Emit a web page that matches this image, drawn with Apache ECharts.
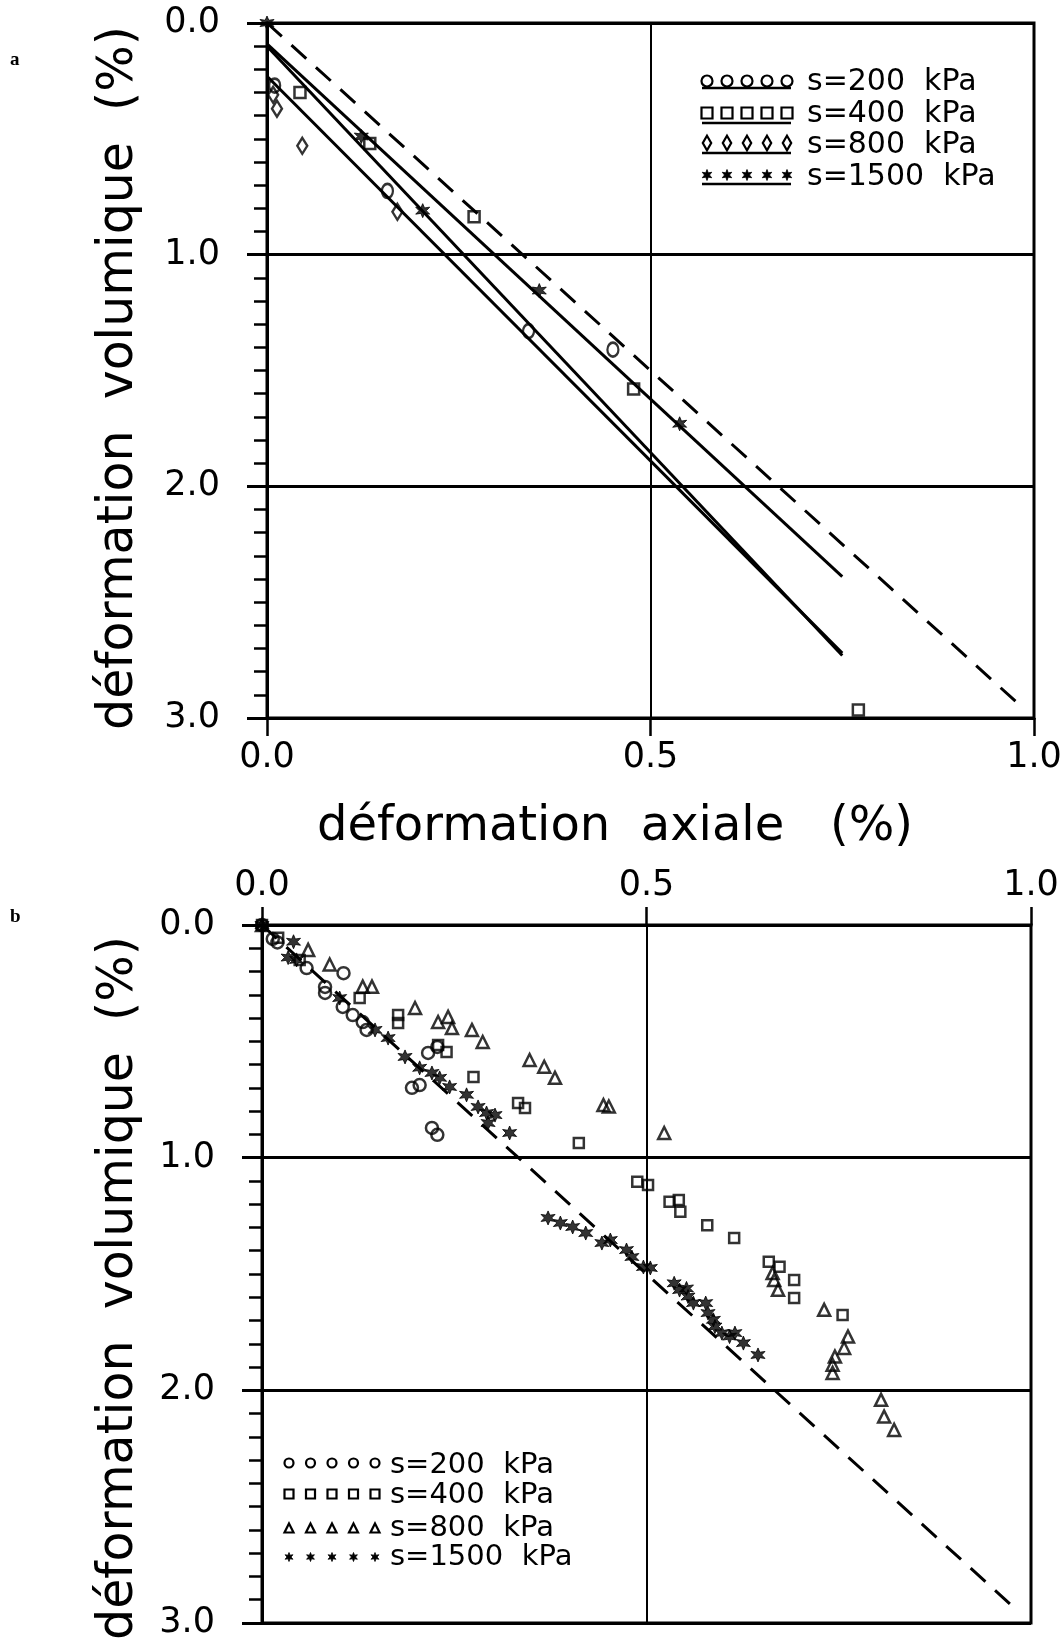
<!DOCTYPE html>
<html>
<head>
<meta charset="utf-8">
<script src="https://cdn.jsdelivr.net/npm/echarts@6/dist/echarts.min.js"></script>
<style>
html,body{margin:0;padding:0;background:#fff;}
#chart{width:1062px;height:1638px;}
</style>
</head>
<body>
<div id="chart"></div>
<script>
// ---------- tick labels ----------
const xTickValues = [0, 0.5, 1.0];
const yTickValues = [0, 1, 2, 3];

// ---------- panel a : measured points ----------
const a_s200  = [[0.010,0.27],[0.157,0.725],[0.341,1.33],[0.451,1.41]];
const a_s400  = [[0.043,0.30],[0.134,0.52],[0.270,0.836],[0.478,1.58],[0.771,2.965]];
const a_s800  = [[0.008,0.31],[0.013,0.37],[0.046,0.53],[0.170,0.815]];
const a_s1500 = [[0,0],[0.123,0.49],[0.203,0.81],[0.355,1.155],[0.538,1.73]];
// panel a : fitted straight lines (end points)
const a_fit1 = [[0,0.09],[0.75,2.39]];
const a_fit2 = [[0,0.10],[0.75,2.73]];
const a_fit3 = [[0,0.23],[0.75,2.72]];
// dashed reference line (both panels)
const refLine = [[0,0],[0.985,2.955]];

// ---------- panel b : measured points ----------
const b_s200 = [[0,0],[0.014,0.06],[0.020,0.075],[0.058,0.185],[0.106,0.207],[0.082,0.266],[0.082,0.292],
  [0.105,0.352],[0.118,0.387],[0.131,0.417],[0.136,0.451],[0.216,0.55],[0.228,0.524],[0.195,0.70],
  [0.205,0.688],[0.221,0.872],[0.228,0.902]];
const b_s400 = [[0,0],[0.021,0.055],[0.049,0.150],[0.127,0.314],[0.177,0.387],[0.177,0.421],[0.229,0.516],
  [0.240,0.546],[0.275,0.653],[0.333,0.765],[0.342,0.786],[0.412,0.937],[0.488,1.103],[0.502,1.117],
  [0.530,1.189],[0.542,1.182],[0.544,1.232],[0.579,1.29],[0.614,1.345],[0.659,1.447],[0.673,1.469],
  [0.692,1.526],[0.692,1.603],[0.755,1.676]];
const b_s800 = [[0,0],[0.060,0.107],[0.088,0.17],[0.131,0.265],[0.143,0.265],[0.199,0.357],[0.229,0.417],
  [0.242,0.395],[0.247,0.443],[0.273,0.451],[0.287,0.503],[0.348,0.58],[0.367,0.609],[0.381,0.657],
  [0.444,0.774],[0.451,0.78],[0.523,0.894],[0.664,1.496],[0.666,1.526],[0.671,1.568],[0.731,1.654],
  [0.762,1.769],[0.757,1.818],[0.745,1.855],[0.742,1.89],[0.742,1.925],[0.805,2.041],[0.809,2.113],[0.822,2.17]];
const b_s1500 = [[0,0],[0.041,0.072],[0.034,0.14],[0.045,0.15],[0.101,0.314],[0.147,0.451],[0.164,0.486],
  [0.186,0.567],[0.205,0.614],[0.221,0.636],[0.231,0.657],[0.244,0.696],[0.266,0.73],[0.281,0.782],
  [0.292,0.808],[0.294,0.851],[0.303,0.817],[0.322,0.894],
  [0.372,1.259],[0.388,1.281],[0.404,1.298],[0.421,1.324],[0.442,1.367],[0.453,1.354],[0.474,1.397],
  [0.481,1.427],[0.496,1.47],[0.505,1.474],
  [0.536,1.54],[0.543,1.569],[0.552,1.562],[0.554,1.597],[0.561,1.625],[0.577,1.625],[0.580,1.668],
  [0.587,1.697],[0.589,1.726],[0.598,1.754],[0.608,1.769],[0.615,1.754],[0.626,1.797],[0.645,1.848]];

// ---------- texts ----------
const seriesNames = ['s=200  kPa','s=400  kPa','s=800  kPa','s=1500  kPa'];
const yTitle = 'déformation  volumique  (%)';
const xTitle = 'déformation  axiale   (%)';
const panelLetters = ['a','b'];

// ---------- styling ----------
const FONT = '"DejaVu Sans", "Noto Sans", sans-serif';
const STAR_PTS = [[0,-1],[0.225,-0.39],[0.866,-0.5],[0.45,0],[0.866,0.5],[0.225,0.39],[0,1],
  [-0.225,0.39],[-0.866,0.5],[-0.45,0],[-0.866,-0.5],[-0.225,-0.39]];
const STAR_PATH = 'path://' + STAR_PTS.map((p,i)=>(i?'L':'M')+(p[0]*100).toFixed(1)+','+(p[1]*100).toFixed(1)).join(' ') + ' Z';

const openStyle = {color:'rgba(255,255,255,0)', borderColor:'#000', borderWidth:2.5};
const starStyle = {color:'#000', borderColor:'#000', borderWidth:1};

function xAxisCfg(gridIndex, pos){
  return {
    type:'value', gridIndex, position:pos, min:0, max:1, interval:0.5,
    axisLine:{show:true, onZero:false, lineStyle:{color:'#000', width:3}},
    axisTick:{show:true, inside:false, length:18, lineStyle:{color:'#000', width:2.5}},
    axisLabel:{show:true, margin:22, fontSize:35, fontFamily:FONT, color:'#000',
      showMinLabel:true, showMaxLabel:true, formatter:v=>v.toFixed(1)},
    splitLine:{show:true, lineStyle:{color:'#000', width:2}}
  };
}
function yAxisCfg(gridIndex){
  return {
    type:'value', gridIndex, inverse:true, min:0, max:3, interval:1,
    axisLine:{show:true, onZero:false, lineStyle:{color:'#000', width:3}},
    axisTick:{show:true, inside:false, length:20, lineStyle:{color:'#000', width:3}},
    minorTick:{show:true, splitNumber:10, length:13, lineStyle:{color:'#000', width:2.5}},
    axisLabel:{show:true, margin:47, fontSize:35, fontFamily:FONT, color:'#000',
      showMinLabel:true, showMaxLabel:true, formatter:v=>v.toFixed(1)},
    splitLine:{show:true, lineStyle:{color:'#000', width:3}}
  };
}
function lineSeries(g, data, dashed){
  return {type:'line', xAxisIndex:g, yAxisIndex:g, data, symbol:'none', silent:true, z:1,
    lineStyle:{color:'#000', width: 3, type: dashed?[20,13]:'solid'}, animation:false};
}
function scatter(g, name, data, kind, size){
  const sym = {circle:'circle', rect:'rect', diamond:'diamond', triangle:'triangle', star:STAR_PATH}[kind];
  return {type:'scatter', name, xAxisIndex:g, yAxisIndex:g, data, symbol:sym, symbolSize:size, z:3,
    itemStyle: kind==='star'?starStyle:openStyle, animation:false};
}

// ---------- legend decorations ----------
function legendSymbol(kind, cx, cy, s){
  const st = {fill:'none', stroke:'#000', lineWidth:2.2};
  if(kind==='circle') return {type:'circle', shape:{cx, cy, r:s/2}, style:st};
  if(kind==='rect') return {type:'rect', shape:{x:cx-s/2, y:cy-s/2, width:s, height:s}, style:st};
  if(kind==='diamond') return {type:'polygon', shape:{points:[[cx,cy-s*0.6],[cx+s*0.35,cy],[cx,cy+s*0.6],[cx-s*0.35,cy]]}, style:st};
  if(kind==='triangle') return {type:'polygon', shape:{points:[[cx,cy-s/2],[cx+s/2,cy+s/2],[cx-s/2,cy+s/2]]}, style:st};
  return {type:'polygon', shape:{points:STAR_PTS.map(p=>[cx+p[0]*s/2, cy+p[1]*s/2])}, style:{fill:'#000', stroke:'#000', lineWidth:0.8}};
}
const graphics = [];
// panel a legend
const aKinds = ['circle','rect','diamond','star'];
const aSymY = [81,113,143,175], aLineY = [88,123,153,184], aTxtY = [82,114,145,177];
aKinds.forEach((k,i)=>{
  graphics.push({type:'line', shape:{x1:702, y1:aLineY[i], x2:791, y2:aLineY[i]}, style:{stroke:'#000', lineWidth:2.5}});
  for(let j=0;j<5;j++) graphics.push(legendSymbol(k, 707+j*20, aSymY[i], k==='diamond'?12:11));
  graphics.push({type:'text', x:807, y:aTxtY[i], style:{text:seriesNames[i], font:'30px '+FONT, fill:'#000', align:'left', verticalAlign:'middle'}});
});
// panel b legend
const bKinds = ['circle','rect','triangle','star'];
const bSymY = [1463,1494,1528,1557], bTxtY = [1465,1495,1528,1557];
bKinds.forEach((k,i)=>{
  for(let j=0;j<5;j++) graphics.push(legendSymbol(k, 289+j*21.5, bSymY[i], 9));
  graphics.push({type:'text', x:390, y:bTxtY[i], style:{text:seriesNames[i], font:'29px '+FONT, fill:'#000', align:'left', verticalAlign:'middle'}});
});
// axis titles
graphics.push({type:'text', x:119, y:378, rotation:Math.PI/2, style:{text:yTitle, font:'49px '+FONT, fill:'#000', align:'center', verticalAlign:'middle'}});
graphics.push({type:'text', x:119, y:1288, rotation:Math.PI/2, style:{text:yTitle, font:'49px '+FONT, fill:'#000', align:'center', verticalAlign:'middle'}});
graphics.push({type:'text', x:615, y:828, style:{text:xTitle, font:'48px '+FONT, fill:'#000', align:'center', verticalAlign:'middle'}});
// panel letters
graphics.push({type:'text', x:10, y:60, style:{text:panelLetters[0], font:'bold 19px "Liberation Serif", serif', fill:'#000', align:'left', verticalAlign:'middle'}});
graphics.push({type:'text', x:10, y:917, style:{text:panelLetters[1], font:'bold 19px "Liberation Serif", serif', fill:'#000', align:'left', verticalAlign:'middle'}});

const chart = echarts.init(document.getElementById('chart'), null, {renderer:'canvas'});
chart.setOption({
  backgroundColor:'#fff',
  animation:false,
  grid:[
    {left:267, top:23, width:767, height:695, show:true, borderColor:'#000', borderWidth:3, backgroundColor:'transparent', containLabel:false, outerBoundsMode:'none'},
    {left:262, top:925, width:769, height:698, show:true, borderColor:'#000', borderWidth:3, backgroundColor:'transparent', containLabel:false, outerBoundsMode:'none'}
  ],
  xAxis:[xAxisCfg(0,'bottom'), xAxisCfg(1,'top')],
  yAxis:[yAxisCfg(0), yAxisCfg(1)],
  series:[
    lineSeries(0, refLine, true),
    lineSeries(0, a_fit1, false),
    lineSeries(0, a_fit2, false),
    lineSeries(0, a_fit3, false),
    scatter(0, seriesNames[0], a_s200, 'circle', [11,14]),
    scatter(0, seriesNames[1], a_s400, 'rect', 11),
    scatter(0, seriesNames[2], a_s800, 'diamond', [10,16]),
    scatter(0, seriesNames[3], a_s1500, 'star', 14),
    lineSeries(1, refLine, true),
    scatter(1, seriesNames[0], b_s200, 'circle', 12),
    scatter(1, seriesNames[1], b_s400, 'rect', 10),
    scatter(1, seriesNames[2], b_s800, 'triangle', 12),
    scatter(1, seriesNames[3], b_s1500, 'star', 14)
  ],
  graphic: graphics
});
</script>
</body>
</html>
